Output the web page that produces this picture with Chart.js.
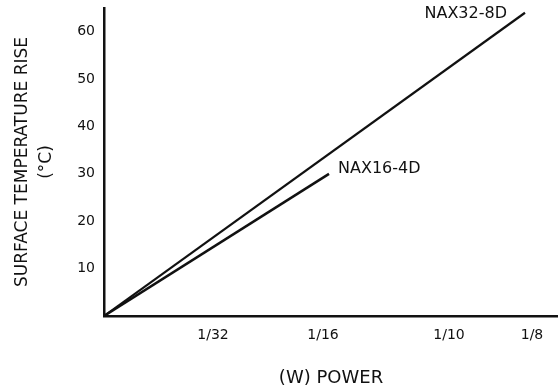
<!DOCTYPE html>
<html>
<head>
<meta charset="utf-8">
<script src="https://cdn.jsdelivr.net/npm/chart.js@4"></script>
<style>
  html, body { margin: 0; padding: 0; background: #fff; }
  #wrap { width: 558px; height: 389px; position: relative; }
</style>
</head>
<body>
<div id="wrap"><canvas id="chart"></canvas></div>
<script>
// x axis is drawn in "axis units"; the printed power ticks sit at these spots
var powerTickLabels = ['1/32', '1/16', '1/10', '1/8']
var powerTickPos = [1.09, 2.19, 3.45, 4.28]
var riseTicks = [10, 20, 30, 40, 50, 60]

// curves (start at origin, end at rated power)
var nax32Power = [0, 4.21]
var nax32Rise = [0, 64]
var nax16Power = [0, 2.25]
var nax16Rise = [0, 30]

var FONT = 'DejaVu Sans'

function toPoints(xs, ys) {
  return xs.map(function (x, i) { return { x: x, y: ys[i] } })
}

// Curve names written next to the end of each line
var endLabels = {
  id: 'endLabels',
  afterDatasetsDraw: function (chart) {
    var ctx = chart.ctx
    ctx.save()
    ctx.fillStyle = '#111'
    ctx.font = '16px "' + FONT + '"'
    ctx.textBaseline = 'middle'
    chart.data.datasets.forEach(function (ds, i) {
      var pts = chart.getDatasetMeta(i).data
      var last = pts[pts.length - 1]
      var o = ds.labelOffset
      ctx.textAlign = o.align
      ctx.fillText(ds.label, last.x + o.dx, last.y + o.dy)
    })
    ctx.restore()
  }
}

var ctx = document.getElementById('chart').getContext('2d')

new Chart(ctx, {
  type: 'line',
  data: {
    datasets: [
      {
        label: 'NAX32-8D',
        data: toPoints(nax32Power, nax32Rise),
        borderColor: '#111',
        borderWidth: 2.2,
        pointRadius: 0,
        labelOffset: { dx: -18, dy: 1, align: 'right' }
      },
      {
        label: 'NAX16-4D',
        data: toPoints(nax16Power, nax16Rise),
        borderColor: '#111',
        borderWidth: 2.5,
        pointRadius: 0,
        labelOffset: { dx: 9, dy: -5, align: 'left' }
      }
    ]
  },
  options: {
    responsive: true,
    maintainAspectRatio: false,
    animation: false,
    layout: { padding: { top: 8, right: 0, left: 0, bottom: 0 }, autoPadding: false },
    plugins: {
      legend: { display: false },
      tooltip: { enabled: false }
    },
    scales: {
      x: {
        type: 'linear',
        min: 0,
        max: 4.54,
        afterBuildTicks: function (scale) {
          scale.ticks = powerTickPos.map(function (v) { return { value: v } })
        },
        afterFit: function (scale) {
          scale.height = 73
          scale.paddingLeft = 0
          scale.paddingRight = 0
        },
        grid: { display: false, drawTicks: false },
        border: { display: true, color: '#111', width: 2.5 },
        ticks: {
          color: '#111',
          padding: 11,
          maxRotation: 0,
          autoSkip: false,
          font: { family: FONT, size: 14 },
          callback: function (value, index) { return powerTickLabels[index] }
        },
        title: {
          display: true,
          text: '(W) POWER',
          color: '#111',
          padding: { top: 0, bottom: 0 },
          font: { family: FONT, size: 18 }
        }
      },
      y: {
        type: 'linear',
        min: 0,
        max: 65,
        afterBuildTicks: function (scale) {
          scale.ticks = riseTicks.map(function (v) { return { value: v } })
        },
        afterFit: function (scale) {
          scale.width = 104
          scale.paddingTop = 0
          scale.paddingBottom = 0
        },
        grid: { display: false, drawTicks: false },
        border: { display: true, color: '#111', width: 2.5 },
        ticks: {
          color: '#111',
          padding: 9,
          font: { family: FONT, size: 14 }
        },
        title: {
          display: true,
          text: ['SURFACE TEMPERATURE RISE', '(°C)'],
          color: '#111',
          padding: { top: 11, bottom: 0 },
          font: { family: FONT, size: 17, lineHeight: 1.4 }
        }
      }
    }
  },
  plugins: [endLabels]
})
</script>
</body>
</html>
